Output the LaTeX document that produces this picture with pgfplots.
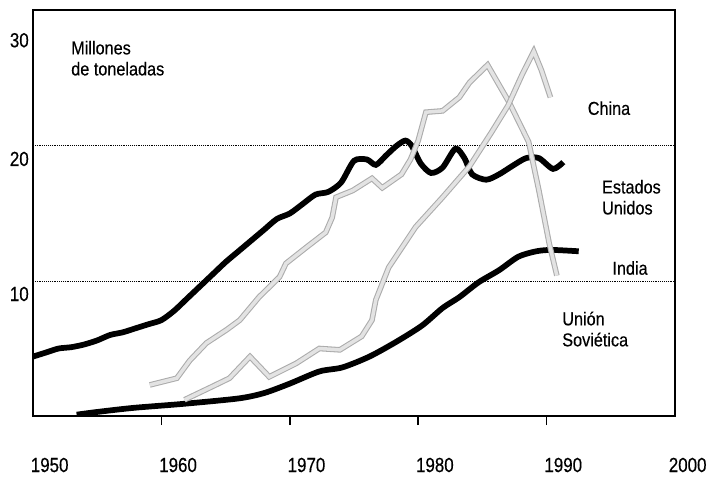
\documentclass[border=0pt]{standalone}
\usepackage{fontspec}
\setmainfont{Liberation Sans}[FakeStretch=0.87, FakeBold=0.35]
\newfontfamily\tickfont{Liberation Sans}[FakeStretch=0.83, FakeBold=0.35]
\usepackage{pgfplots}
\pgfplotsset{compat=1.18}
\begin{document}
\begin{tikzpicture}
\begin{axis}[
  scale only axis, width=481.5pt, height=304.5pt,
  xmin=1950, xmax=2000, ymin=0, ymax=30.07,
  axis line style={black, line width=1.2pt},
  xtick={1960,1970,1980,1990},
  xticklabels={1960,1970,1980,1990},
  extra x ticks={1950,2000},
  extra x tick labels={1950,\kern-6pt 2000},
  extra x tick style={major tick length=0pt, xticklabel style={yshift=-6.75pt}},
  xtick pos=bottom, ytick pos=left,
  tick align=outside,
  major tick length=6.75pt,
  x tick style={black, line width=1.2pt},
  y tick style={draw=none},
  ytick={10,20,30},
  yticklabels={10,20,\raisebox{-17.5pt}[0pt][0pt]{30}},
  xticklabel style={font=\tickfont\fontsize{15.3}{17}\selectfont, anchor=center, xshift=12.5pt, yshift=-30pt},
  yticklabel style={font=\tickfont\fontsize{15.3}{17}\selectfont, anchor=east, inner sep=0pt, xshift=3.75pt, yshift=-9.75pt},
  ymajorgrids, grid style={black, densely dotted, line width=0.7pt},
  /pgf/number format/assume math mode=true,
]
% Estados Unidos
\addplot[black, line width=4.3pt, smooth, tension=0.45] coordinates {
(1950,4.4) (1951,4.7) (1952,5.0) (1953,5.1) (1954,5.3) (1955,5.6) (1956,6.0)
(1957,6.2) (1958,6.5) (1959,6.8) (1960,7.1) (1961,7.8) (1962,8.7) (1963,9.6)
(1964,10.5) (1965,11.4) (1966,12.2) (1967,13.0) (1968,13.8) (1969,14.6)
(1970,15.0) (1971,15.7) (1972,16.4) (1973,16.6) (1974,17.3) (1975,18.9)
(1976,19.0) (1976.7,18.6) (1977.5,19.3) (1978.3,20.0) (1979,20.4) (1979.5,20.0)
(1980.2,18.7) (1981,18.0) (1981.9,18.4) (1982.9,19.8) (1983.6,19.1) (1984.2,17.9)
(1985.3,17.5) (1986.3,17.9) (1987.3,18.5) (1988.4,19.1) (1989.4,19.1) (1990.5,18.3)
(1991.3,18.8)
};
% India
\addplot[black, line width=4.3pt, smooth, tension=0.45] coordinates {
(1953.4,0.1) (1955,0.3) (1957.8,0.6) (1961.7,0.9) (1966,1.3) (1968,1.7)
(1970,2.4) (1972.3,3.3) (1974.1,3.6) (1976.2,4.4) (1978.3,5.5) (1980.3,6.7)
(1981.9,8.0) (1983.2,8.8) (1984.7,9.9) (1986.3,10.8) (1987.8,11.8) (1989.2,12.2)
(1990.4,12.3) (1992.5,12.2)
};
% Union Sovietica
\addplot[draw=gray!65, double=gray!22, double distance=2.6pt, line width=0.8pt] coordinates {
(1959.1,2.3) (1961.2,2.8) (1962.2,4.1) (1963.5,5.4) (1965.1,6.4) (1966.1,7.1)
(1967.6,8.8) (1969.2,10.3) (1969.7,11.3) (1971.3,12.5) (1972.8,13.6) (1973.3,14.7)
(1973.6,16.2) (1974.9,16.7) (1976.4,17.6) (1977.2,16.9) (1978.7,17.9) (1979.4,19.0)
(1980.0,20.4) (1980.6,22.5) (1981.9,22.6) (1983.2,23.6) (1984,24.7) (1985.4,26.0)
(1987.1,23.2) (1988.6,20.3) (1989.4,16.7) (1990.2,12.8) (1990.8,10.4)
};
% China
\addplot[draw=gray!65, double=gray!22, double distance=2.6pt, line width=0.8pt] coordinates {
(1961.8,1.2) (1964,2.2) (1965.3,2.8) (1966.9,4.4) (1968.4,2.9) (1970.5,3.9)
(1972.3,5.0) (1973.9,4.9) (1975.6,5.9) (1976.4,7.1) (1976.7,8.6) (1977.7,11.0)
(1979.8,14.0) (1981.9,16.2) (1984,18.5) (1985.7,21.0) (1987,23.0) (1988.1,25.3)
(1989,27.0) (1989.6,25.6) (1990.3,23.6)
};
\node[anchor=west, align=left, inner sep=0pt, font=\fontsize{14}{15.75}\selectfont] at (axis cs:1952.96,26.5) {Millones\\de toneladas};
\node[anchor=center, inner sep=0pt, font=\fontsize{14}{15.75}\selectfont] at (axis cs:1994.86,22.8) {China};
\node[anchor=west, align=left, inner sep=0pt, font=\fontsize{14}{15.75}\selectfont] at (axis cs:1994.3,16.2) {Estados\\Unidos};
\node[anchor=center, inner sep=0pt, font=\fontsize{14}{15.75}\selectfont] at (axis cs:1996.5,10.96) {India};
\node[anchor=west, align=left, inner sep=0pt, font=\fontsize{14}{15.75}\selectfont] at (axis cs:1991.2,6.44) {Unión\\Soviética};
\end{axis}
\pgfresetboundingbox
\path[use as bounding box] (current axis.south west) ++(-24.75pt,-45pt) rectangle ++(530.25pt,357pt);
\end{tikzpicture}
\end{document}
